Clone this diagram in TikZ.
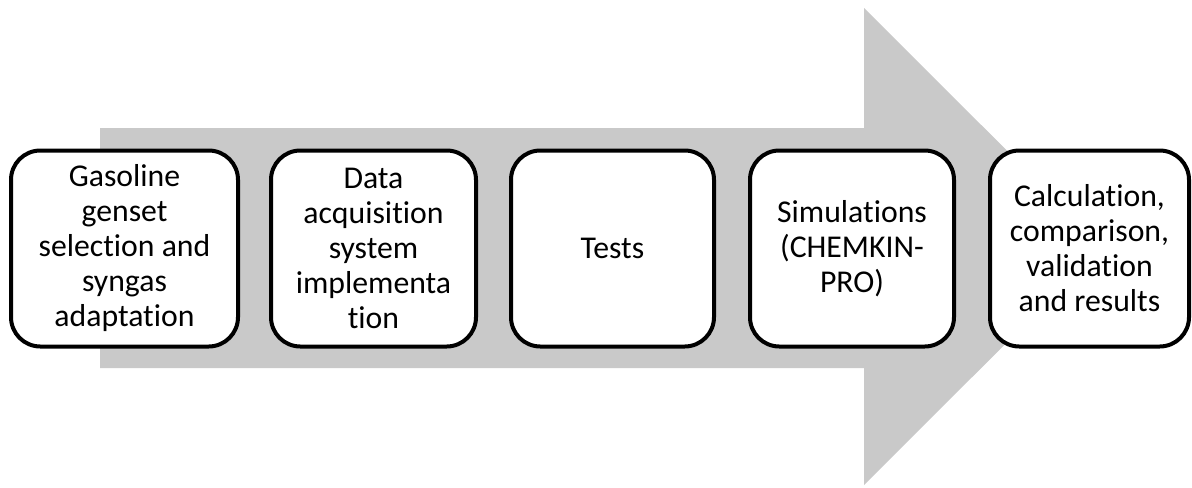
\documentclass[tikz,border=0pt]{standalone}
\usepackage{fontspec}
\setmainfont{Carlito}[Ligatures=NoCommon]
\definecolor{arrowgray}{RGB}{201,201,201}
\tikzset{
  stepbox/.style={draw=black, line width=3pt, fill=white, rounded corners=22pt,
    align=center, inner sep=0pt, minimum height=196*0.75pt,
    font=\fontsize{23.8}{26.25}\selectfont},
}
\begin{document}
\begin{tikzpicture}[x=0.75pt, y=-0.75pt]
\useasboundingbox (0,0) rectangle (1192,487);
% broad background arrow
\fill[arrowgray] (100,128) -- (864,128) -- (864,8) -- (1103,246.5)
  -- (864,485) -- (864,368) -- (100,368) -- cycle;
% process steps
\node[stepbox, minimum width=227*0.75pt] (s1) at (124.5,248.5)
  {Gasoline\\genset\\selection and\\syngas\\adaptation};
\node[stepbox, minimum width=205*0.75pt] (s2) at (373.5,248.5)
  {Data\\acquisition\\system\\implementa\\tion};
\node[stepbox, minimum width=203*0.75pt] (s3) at (612.5,248.5)
  {Tests};
\node[stepbox, minimum width=204*0.75pt] (s4) at (852,248.5)
  {Simulations\\(CHEMKIN-\\PRO)};
\node[stepbox, minimum width=199*0.75pt] (s5) at (1089.5,248.5)
  {Calculation,\\comparison,\\validation\\and results};
\end{tikzpicture}
\end{document}
